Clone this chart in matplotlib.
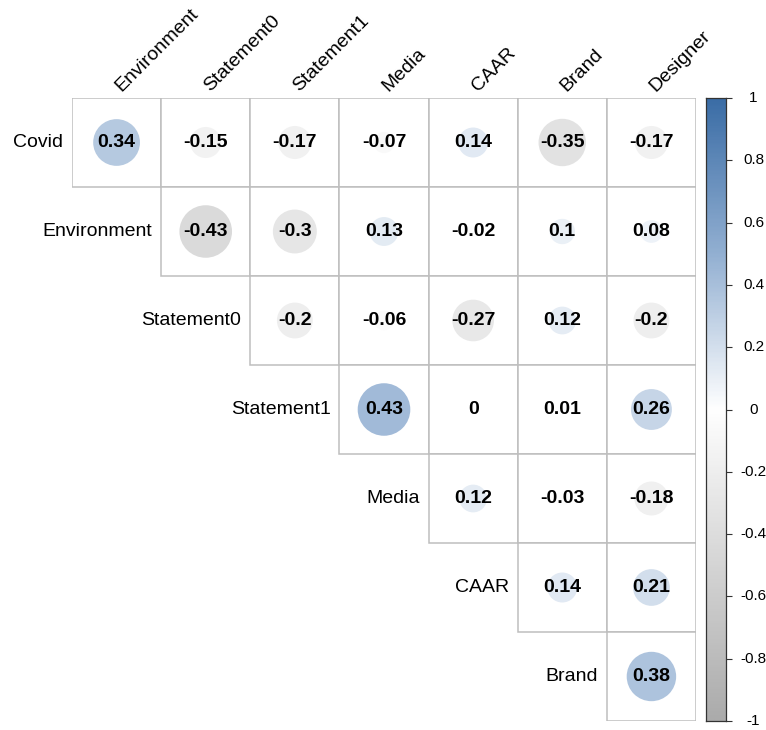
import numpy as np
import matplotlib
matplotlib.use("Agg")
import matplotlib.pyplot as plt
from matplotlib.colors import LinearSegmentedColormap, Normalize
from matplotlib.patches import Circle, Rectangle

plt.rcParams['font.family'] = ['Liberation Sans', 'DejaVu Sans']

row_labels = ["Covid", "Environment", "Statement0", "Statement1", "Media", "CAAR", "Brand"]
col_labels = ["Environment", "Statement0", "Statement1", "Media", "CAAR", "Brand", "Designer"]

covid = [0.34, -0.15, -0.17, -0.07, 0.14, -0.35, -0.17]
environment = [-0.43, -0.3, 0.13, -0.02, 0.1, 0.08]
statement0 = [-0.2, -0.06, -0.27, 0.12, -0.2]
statement1 = [0.43, 0, 0.01, 0.26]
media = [0.12, -0.03, -0.18]
caar = [0.14, 0.21]
brand = [0.38]
rows = [covid, environment, statement0, statement1, media, caar, brand]

cbar_ticks = [-1, -0.8, -0.6, -0.4, -0.2, 0, 0.2, 0.4, 0.6, 0.8, 1]
cbar_ticklabels = ["-1", "-0.8", "-0.6", "-0.4", "-0.2", "0", "0.2", "0.4", "0.6", "0.8", "1"]

cmap = LinearSegmentedColormap.from_list(
    "gw_blue",
    [(0.0, "#ABABAB"), (0.5, "#FFFFFF"), (0.75, "#93B0D2"), (1.0, "#3B6DA6")])
norm = Normalize(-1, 1)

W, H = 766, 730
fig = plt.figure(figsize=(W / 100, H / 100), dpi=100)
gx0, gx1, gy0, gy1 = 72, 696, 98, 721
ax = fig.add_axes([gx0 / W, 1 - gy1 / H, (gx1 - gx0) / W, (gy1 - gy0) / H])
n = len(col_labels)
ax.set_xlim(0, n)
ax.set_ylim(n, 0)
ax.axis("off")

grid_col = "#BEBEBE"
for i, vals in enumerate(rows):
    for k, v in enumerate(vals):
        j = i + k
        ax.add_patch(Rectangle((j, i), 1, 1, facecolor="white", edgecolor=grid_col,
                               linewidth=1.1, zorder=1))
        r = 0.45 * np.sqrt(abs(v))
        if r > 0:
            ax.add_patch(Circle((j + 0.5, i + 0.5), r, facecolor=cmap(norm(v)),
                                edgecolor="none", zorder=2))
        ax.text(j + 0.5, i + 0.5, f"{v:g}", ha="center", va="center",
                fontsize=14, fontweight="bold", color="black", zorder=3)
    ax.text(i - 0.1, i + 0.5, row_labels[i], ha="right", va="center",
            fontsize=14, color="black", clip_on=False)

for j, lab in enumerate(col_labels):
    ax.text(j + 0.5 + 0.05, -0.07, lab, rotation=45, ha="left", va="baseline",
            rotation_mode="anchor", fontsize=14, color="black", clip_on=False)

# colorbar
cx0, cx1 = 706, 726
cax = fig.add_axes([cx0 / W, 1 - gy1 / H, (cx1 - cx0) / W, (gy1 - gy0) / H])
grad = np.linspace(-1, 1, 400).reshape(-1, 1)
cax.imshow(grad, aspect="auto", cmap=cmap, norm=norm, origin="lower",
           extent=[0, 1, -1, 1])
cax.set_xlim(0, 1)
cax.set_ylim(-1, 1)
cax.set_xticks([])
cax.yaxis.tick_right()
cax.set_yticks(cbar_ticks)
cax.set_yticklabels([])
cax.tick_params(axis="y", length=4, width=0.8, color="#333333")
for s in cax.spines.values():
    s.set_color("#333333")
    s.set_linewidth(0.9)
for t, lab in zip(cbar_ticks, cbar_ticklabels):
    cax.text(2.38, t, lab, ha="center", va="center", fontsize=11,
             color="black", clip_on=False)

fig.savefig("out.png", dpi=100, facecolor="white")
